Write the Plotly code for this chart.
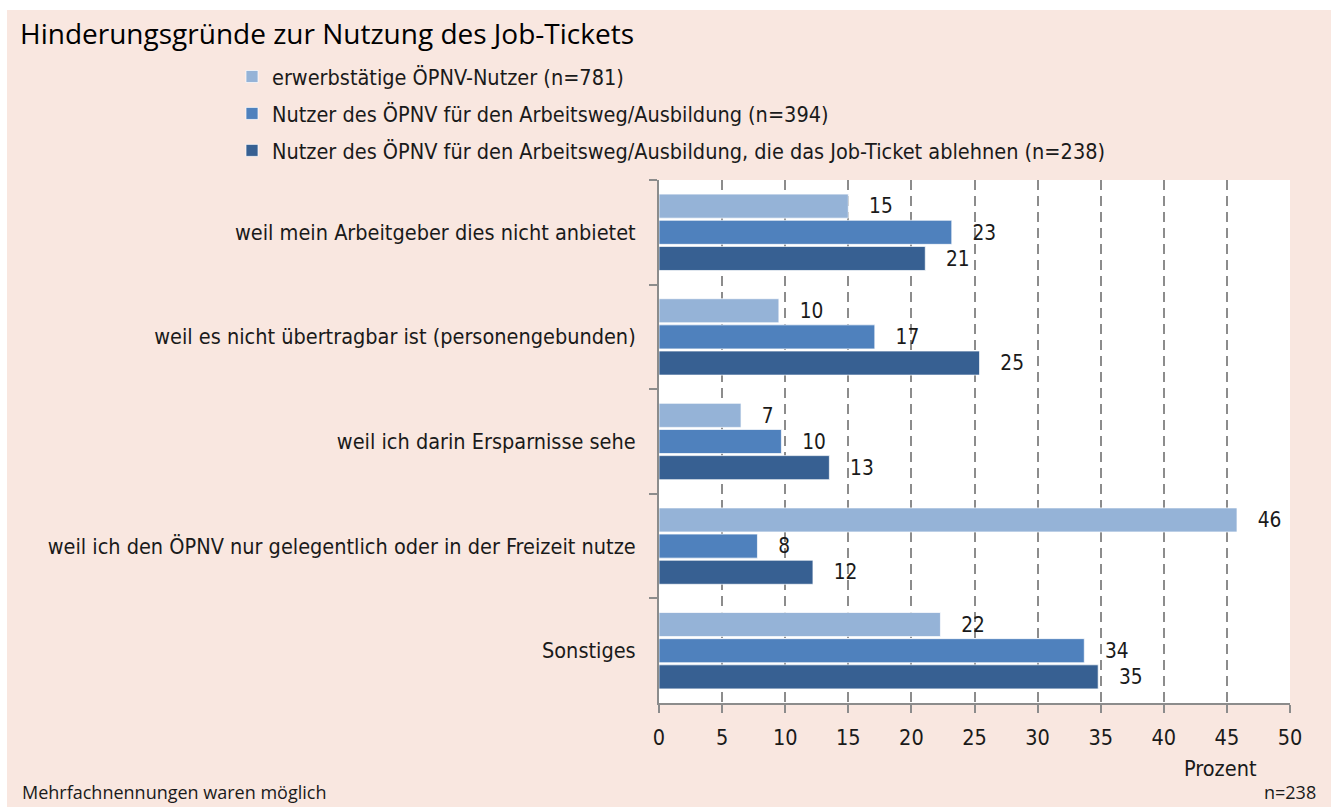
import plotly.graph_objects as go

categories = [
    "weil mein Arbeitgeber dies nicht anbietet",
    "weil es nicht übertragbar ist (personengebunden)",
    "weil ich darin Ersparnisse sehe",
    "weil ich den ÖPNV nur gelegentlich oder in der Freizeit nutze",
    "Sonstiges",
]
series_names = [
    "erwerbstätige ÖPNV-Nutzer (n=781)",
    "Nutzer des ÖPNV für den Arbeitsweg/Ausbildung (n=394)",
    "Nutzer des ÖPNV für den Arbeitsweg/Ausbildung, die das Job-Ticket ablehnen (n=238)",
]
values_1 = [15.0, 9.5, 6.5, 45.8, 22.3]
values_2 = [23.2, 17.1, 9.7, 7.8, 33.7]
values_3 = [21.1, 25.4, 13.5, 12.2, 34.8]
labels_1 = ["15", "10", "7", "46", "22"]
labels_2 = ["23", "17", "10", "8", "34"]
labels_3 = ["21", "25", "13", "12", "35"]
x_ticks = [0, 5, 10, 15, 20, 25, 30, 35, 40, 45, 50]

colors = ["#95B3D7", "#4F81BD", "#376092"]
FONT_C = "DejaVu Sans Condensed, Liberation Sans Narrow, sans-serif"
FONT_T = "Open Sans, sans-serif"
TXT = "#1a1a1a"
FS = 21.5

W, H = 1341, 807
L, R, T, B = 659, 1290, 180, 703


def xp(px):
    return (px - L) / (R - L)


def yp(py):
    return (B - py) / (B - T)


fig = go.Figure()
for i, (vals, labs) in enumerate([(values_1, labels_1), (values_2, labels_2), (values_3, labels_3)]):
    fig.add_trace(go.Bar(
        y=categories, x=vals, orientation="h", name=series_names[i],
        legendgroup=f"g{i}",
        marker=dict(color=colors[i], line=dict(color="rgba(255,255,255,0.7)", width=1)),
        text=["   " + t for t in labs], textposition="outside",
        textfont=dict(family=FONT_C, size=FS, color=TXT),
        cliponaxis=False, hoverinfo="x+name",
    ))

fig.update_layout(
    width=W, height=H,
    margin=dict(l=L, r=W - R, t=T, b=H - B, pad=0),
    paper_bgcolor="#F9E7E0", plot_bgcolor="white",
    barmode="group", bargap=0.25, bargroupgap=0.08,
    showlegend=True,
    legend=dict(x=xp(232), y=yp(56), xanchor="left", yanchor="top",
                font=dict(family=FONT_C, size=FS, color=TXT),
                bgcolor="rgba(0,0,0,0)", tracegroupgap=6, traceorder="grouped",
                itemwidth=30),
    font=dict(family=FONT_C, color=TXT),
    xaxis=dict(range=[0, 50], tickvals=x_ticks, showgrid=True, gridcolor="#8c8c8c",
               gridwidth=1.5, griddash="10px,6px", zeroline=False,
               showline=True, linecolor="#8c8c8c", linewidth=2,
               ticks="outside", ticklen=8, tickwidth=2, tickcolor="#8c8c8c",
               tickfont=dict(family=FONT_C, size=FS, color=TXT), ticklabelstandoff=6,
               fixedrange=True),
    yaxis=dict(autorange="reversed", showgrid=False, zeroline=False,
               showline=True, linecolor="#8c8c8c", linewidth=2,
               ticks="outside", ticklen=8, tickwidth=2, tickcolor="#8c8c8c",
               tickson="boundaries",
               tickfont=dict(family=FONT_C, size=FS, color=TXT), ticklabelstandoff=17,
               fixedrange=True),
    shapes=[
        dict(type="rect", xref="paper", yref="paper", x0=xp(0), x1=xp(W), y0=yp(0), y1=yp(10),
             fillcolor="white", line=dict(width=0)),
        dict(type="rect", xref="paper", yref="paper", x0=xp(0), x1=xp(7), y0=yp(0), y1=yp(H),
             fillcolor="white", line=dict(width=0)),
        dict(type="rect", xref="paper", yref="paper", x0=xp(1331), x1=xp(W), y0=yp(0), y1=yp(H),
             fillcolor="white", line=dict(width=0)),
    ],
    annotations=[
        dict(text="Hinderungsgründe zur Nutzung des Job-Tickets", xref="paper", yref="paper",
             x=xp(18), y=yp(33), xanchor="left", yanchor="middle", showarrow=False,
             font=dict(family=FONT_T, size=28, color="black")),
        dict(text="Prozent", xref="paper", yref="paper", x=xp(1220), y=yp(768),
             xanchor="center", yanchor="middle", showarrow=False,
             font=dict(family=FONT_C, size=FS, color=TXT)),
        dict(text="Mehrfachnennungen waren möglich", xref="paper", yref="paper",
             x=xp(20), y=yp(806), xanchor="left", yanchor="bottom", showarrow=False,
             font=dict(family=FONT_T, size=18, color=TXT)),
        dict(text="n=238", xref="paper", yref="paper",
             x=xp(1318), y=yp(806), xanchor="right", yanchor="bottom", showarrow=False,
             font=dict(family=FONT_T, size=18, color=TXT)),
    ],
)

fig.write_html("out.html", config={"displayModeBar": False},
               post_script="document.body.style.margin='0';")
